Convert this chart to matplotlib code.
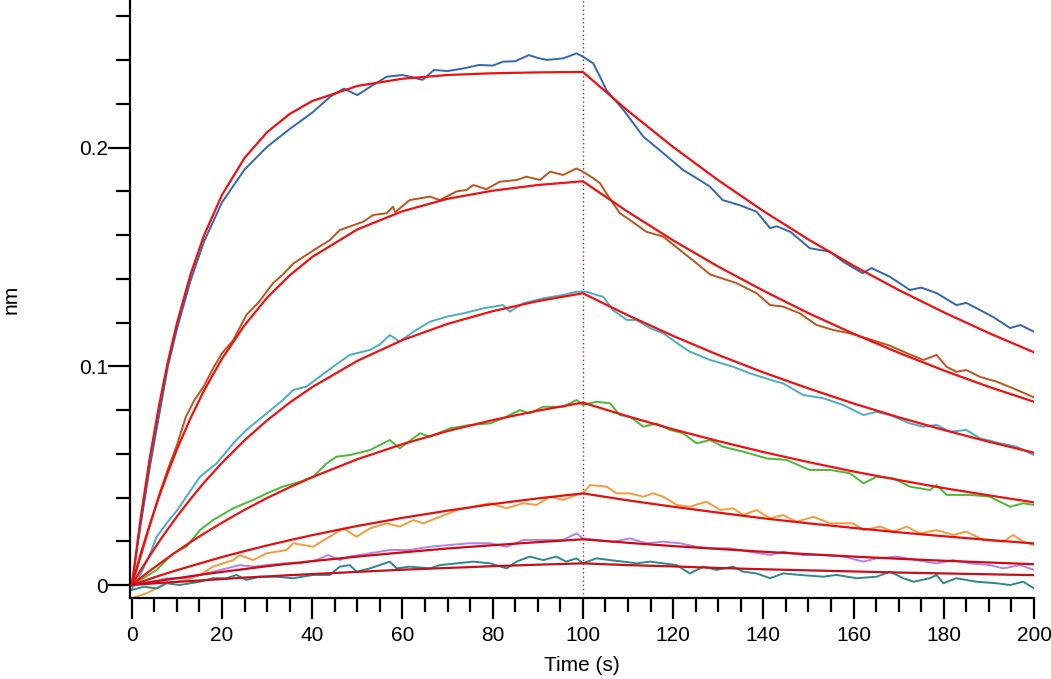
import matplotlib
matplotlib.use("Agg")
import matplotlib.pyplot as plt
from matplotlib.ticker import MultipleLocator, FixedLocator

plt.rcParams['font.family'] = ['Liberation Sans', 'DejaVu Sans']

# ---------------- data ----------------
t_blue = [0, 2, 4, 6, 8, 10, 13, 16, 20, 25, 30, 35, 40, 44, 47, 50, 53, 56.5, 60, 64.5, 67, 70,
          73.5, 77, 80, 82.3, 85, 88, 90, 92, 95.6, 98.6, 100, 102.3, 103.8, 105.2, 109, 113.4,
          117.8, 122.2, 126, 128.2, 131, 135, 138.5, 141.5, 143, 146, 150.3, 154.8, 157.7, 162,
          164, 168, 172.5, 175, 178.4, 182.8, 185, 188.7, 191, 194.7, 197, 200]
v_blue = [0, 0.028, 0.054, 0.077, 0.100, 0.117, 0.139, 0.157, 0.175, 0.190, 0.2004, 0.2085, 0.216,
          0.2233, 0.227, 0.224, 0.228, 0.2324, 0.2332, 0.2310, 0.2355, 0.2350, 0.2362, 0.2378,
          0.2375, 0.2393, 0.2395, 0.2423, 0.2410, 0.2401, 0.2408, 0.2431, 0.2416, 0.2385, 0.2324,
          0.2263, 0.2172, 0.2050, 0.1975, 0.1898, 0.1850, 0.1821, 0.1760, 0.1735, 0.1707, 0.1632,
          0.1640, 0.1615, 0.1540, 0.1524, 0.1478, 0.1426, 0.1449, 0.1410, 0.1349, 0.1360, 0.1335,
          0.1280, 0.1290, 0.1250, 0.1225, 0.1175, 0.1189, 0.1158]

t_brown = [0, 2, 4, 6, 8, 10, 12, 14, 16, 18, 20, 22.5, 25.4, 28, 31.3, 33.5, 35.8, 38, 41, 43.9,
           46.1, 51.3, 53.5, 56.5, 57.9, 58.4, 61.6, 66.1, 68.3, 72, 74.2, 75.7, 78.6, 81.6, 85.3,
           87.5, 90.5, 92.7, 95.6, 98.6, 100, 102.3, 103.8, 105.2, 106.7, 108.2, 110.4, 114.1,
           117.8, 121.5, 125.2, 128.2, 134.1, 138.5, 141.5, 144.4, 148.1, 151.8, 155.5, 159.2,
           162.9, 168.1, 171.8, 175.5, 178.4, 180.6, 182.8, 185, 188, 191.7, 195.4, 200]
v_brown = [0, 0.013, 0.027, 0.041, 0.053, 0.064, 0.077, 0.085, 0.091, 0.099, 0.106, 0.112, 0.1235,
           0.129, 0.138, 0.142, 0.147, 0.150, 0.154, 0.1577, 0.1623, 0.1661, 0.1692, 0.1700,
           0.1730, 0.1705, 0.1760, 0.1776, 0.1760, 0.1800, 0.1806, 0.1829, 0.1810, 0.1844, 0.1852,
           0.1867, 0.1852, 0.1890, 0.1875, 0.1905, 0.1890, 0.1860, 0.1837, 0.1791, 0.1745, 0.1700,
           0.1669, 0.1615, 0.1593, 0.1532, 0.1471, 0.1420, 0.1380, 0.1334, 0.1280, 0.1273, 0.1242,
           0.1189, 0.1166, 0.1151, 0.1128, 0.1094, 0.1060, 0.1029, 0.1052, 0.0998, 0.0975, 0.0983,
           0.0952, 0.0930, 0.0899, 0.0858]

t_cyan = [0, 2, 4, 5.5, 8, 10, 12.1, 15.1, 18.8, 22.5, 25.4, 29.9, 33.5, 35.8, 38.7, 40.2, 44.6,
          48.3, 52.8, 55, 57.2, 59.4, 62.4, 66.1, 69.8, 73.5, 77.9, 82.3, 83.8, 86.8, 91.2, 95.6,
          98.6, 100.8, 103, 104.5, 106.7, 109.7, 111.9, 114.9, 117.8, 121.5, 123.7, 128.2, 133.3,
          137, 142.9, 144.4, 148.8, 153.3, 157.7, 162.2, 165.1, 168.1, 172.5, 175.5, 178.4, 181.4,
          185, 188, 192.5, 196.2, 200]
v_cyan = [-0.002, 0.005, 0.014, 0.022, 0.029, 0.034, 0.0404, 0.0495, 0.0556, 0.0648, 0.0709,
          0.0785, 0.0846, 0.0892, 0.0907, 0.0930, 0.0998, 0.1052, 0.1075, 0.1100, 0.1143, 0.1113,
          0.1158, 0.1204, 0.1227, 0.1242, 0.1265, 0.1280, 0.1250, 0.1288, 0.1311, 0.1326, 0.1341,
          0.1341, 0.1326, 0.1318, 0.1257, 0.1212, 0.1212, 0.1174, 0.1151, 0.1097, 0.1067, 0.1029,
          0.0998, 0.0968, 0.0930, 0.0922, 0.0869, 0.0854, 0.0823, 0.0777, 0.0792, 0.0777, 0.0739,
          0.0724, 0.0732, 0.0701, 0.0709, 0.0671, 0.0648, 0.0632, 0.0594]

t_green = [0, 2.5, 5.5, 9.2, 12.1, 15.1, 18, 22.5, 26.9, 29.9, 33.5, 37.3, 40.2, 43.2, 45.4, 48.3,
           52.8, 57.2, 59.4, 63.9, 66.1, 70.5, 74.9, 79.4, 82.3, 86, 88.2, 91.2, 95.6, 98.6, 100,
           103, 106, 108.2, 110.4, 113.4, 116.3, 119.3, 122.2, 125.2, 128.2, 131.1, 135.5, 140.7,
           145.1, 150.3, 154.8, 159.2, 162.2, 165.1, 168.8, 172.5, 176.9, 178.4, 180.6, 185.8,
           190.2, 194.7, 197.6, 200]
v_green = [0, 0.003, 0.0069, 0.0145, 0.0175, 0.0251, 0.0297, 0.0351, 0.0389, 0.0419, 0.0450,
           0.0472, 0.0495, 0.0556, 0.0587, 0.0594, 0.0617, 0.0663, 0.0625, 0.0694, 0.0678, 0.0716,
           0.0732, 0.0739, 0.0762, 0.0800, 0.0785, 0.0815, 0.0815, 0.0846, 0.0823, 0.0838, 0.0831,
           0.0777, 0.0770, 0.0724, 0.0739, 0.0709, 0.0694, 0.0648, 0.0663, 0.0632, 0.0610, 0.0579,
           0.0572, 0.0526, 0.0526, 0.0511, 0.0465, 0.0495, 0.0488, 0.0450, 0.0434, 0.0457, 0.0412,
           0.0412, 0.0404, 0.0358, 0.0374, 0.0366]

t_orange = [0, 3.25, 5.5, 7.7, 12.1, 15.1, 18, 22.5, 23.9, 26.9, 29.9, 34.3, 35.8, 40.2, 43.2,
            46.9, 49.8, 52.8, 56.5, 59.4, 62.4, 64.6, 68.3, 72, 75.7, 79.4, 83.1, 86.8, 89.7,
            92.7, 95.6, 98.6, 100, 101.6, 105.2, 107.5, 110.4, 113.4, 115.6, 117.8, 120.8, 123.7,
            127.4, 130.4, 133.3, 135.5, 138.5, 141.5, 144.4, 147.3, 151.1, 154.8, 159.9, 162.2,
            165.9, 168.8, 171.8, 174.7, 178.4, 182.1, 185, 188.8, 193.2, 195.4, 197.6, 200]
v_orange = [-0.006, -0.0038, -0.0015, 0.0008, 0.0023, 0.0046, 0.0084, 0.0114, 0.0137, 0.0114,
            0.0145, 0.0160, 0.0191, 0.0175, 0.0213, 0.0259, 0.0221, 0.0259, 0.0282, 0.0267,
            0.0297, 0.0282, 0.0312, 0.0343, 0.0358, 0.0374, 0.0351, 0.0374, 0.0366, 0.0404,
            0.0389, 0.0412, 0.0419, 0.0457, 0.0450, 0.0419, 0.0419, 0.0404, 0.0419, 0.0404,
            0.0366, 0.0358, 0.0381, 0.0343, 0.0351, 0.0320, 0.0343, 0.0305, 0.0320, 0.0289,
            0.0312, 0.0282, 0.0282, 0.0251, 0.0267, 0.0244, 0.0267, 0.0236, 0.0251, 0.0229,
            0.0244, 0.0206, 0.0198, 0.0229, 0.0198, 0.0183]

t_purple = [0, 3.25, 7.7, 12.1, 16.5, 21, 23.9, 26.9, 29.9, 33.5, 37.3, 40.9, 43.5, 46.1, 48.3,
            52.8, 57.2, 61.6, 66.1, 70.5, 74.9, 79.4, 83.1, 86.8, 91.2, 95.6, 98.6, 100, 103,
            106.7, 110.4, 114.1, 117.8, 121.5, 125.2, 128.2, 132.6, 137, 141.5, 144.4, 148.8,
            153.3, 157.7, 162.2, 165.1, 169.5, 173.9, 178.4, 182.1, 185.8, 190.2, 193.2, 196.9, 200]
v_purple = [0, 0.0008, 0.0031, 0.0031, 0.0053, 0.0076, 0.0091, 0.0084, 0.0091, 0.0099, 0.0099,
            0.0114, 0.0137, 0.0114, 0.0130, 0.0145, 0.0160, 0.0160, 0.0175, 0.0183, 0.0191,
            0.0191, 0.0175, 0.0206, 0.0206, 0.0206, 0.0236, 0.0213, 0.0206, 0.0198, 0.0213,
            0.0191, 0.0198, 0.0191, 0.0175, 0.0168, 0.0168, 0.0152, 0.0137, 0.0152, 0.0137,
            0.0137, 0.0130, 0.0107, 0.0122, 0.0130, 0.0114, 0.0099, 0.0114, 0.0099, 0.0091,
            0.0076, 0.0091, 0.0069]

t_teal = [0, 2.6, 5.5, 7.7, 10.6, 15.1, 18, 21, 23.2, 25.4, 28.3, 32, 35.8, 40.2, 43.9, 46.1,
          48.3, 49.8, 52.8, 57.2, 58.7, 61.6, 66.1, 68.3, 72, 75.7, 79.4, 83.1, 85.3, 88.2, 91.2,
          94.1, 96.3, 98.6, 100, 103, 106, 108.9, 111.9, 114.9, 117.8, 120.8, 123.7, 126.7, 129.6,
          133.3, 135.5, 138.5, 141.5, 144.4, 148.1, 153.3, 156.2, 160.7, 165.1, 168.1, 171,
          173.3, 176.9, 178.4, 179.9, 182.8, 187.3, 191.7, 194.7, 197.6, 200]
v_teal = [-0.0023, -0.0008, -0.0015, 0.0008, 0.0, 0.0015, 0.0031, 0.0031, 0.0046, 0.0023, 0.0038,
          0.0038, 0.0031, 0.0046, 0.0046, 0.0084, 0.0091, 0.0061, 0.0076, 0.0107, 0.0076, 0.0084,
          0.0076, 0.0091, 0.0099, 0.0107, 0.0099, 0.0076, 0.0107, 0.0130, 0.0114, 0.0130, 0.0107,
          0.0122, 0.0099, 0.0122, 0.0114, 0.0107, 0.0099, 0.0107, 0.0099, 0.0091, 0.0053, 0.0084,
          0.0069, 0.0084, 0.0061, 0.0053, 0.0031, 0.0053, 0.0046, 0.0038, 0.0046, 0.0031, 0.0038,
          0.0061, 0.0031, 0.0015, 0.0031, 0.0046, 0.0008, 0.0031, 0.0015, 0.0008, 0.0, 0.0015,
          -0.0015]

# fitted curves (red), read at common times
t_fit = [0, 2, 4, 6, 8, 10, 13, 16, 20, 25, 30, 35, 40, 50, 60, 70, 80, 90, 100,
         110, 120, 130, 140, 150, 160, 170, 180, 190, 200]
fit_blue = [0, 0.0312, 0.0583, 0.0817, 0.1021, 0.1197, 0.1419, 0.1598, 0.1784, 0.1953, 0.2071,
            0.2154, 0.2213, 0.2282, 0.2315, 0.2332, 0.2340, 0.2344, 0.2346,
            0.2168, 0.2003, 0.1851, 0.1710, 0.1580, 0.1460, 0.1349, 0.1247, 0.1152, 0.1064]
fit_brown = [0, 0.0145, 0.0278, 0.0401, 0.0515, 0.0620, 0.0762, 0.0889, 0.1035, 0.1188, 0.1314,
             0.1416, 0.1500, 0.1626, 0.1709, 0.1766, 0.1803, 0.1829, 0.1846,
             0.1706, 0.1576, 0.1456, 0.1346, 0.1243, 0.1149, 0.1062, 0.0981, 0.0906, 0.0838]
fit_cyan = [0, 0.0069, 0.0134, 0.0197, 0.0256, 0.0313, 0.0393, 0.0468, 0.0559, 0.0662, 0.0753,
            0.0834, 0.0905, 0.1025, 0.1120, 0.1194, 0.1252, 0.1298, 0.1334,
            0.1233, 0.1139, 0.1052, 0.0972, 0.0899, 0.0830, 0.0767, 0.0709, 0.0655, 0.0605]
fit_green = [0, 0.0033, 0.0065, 0.0095, 0.0125, 0.0154, 0.0196, 0.0235, 0.0285, 0.0344, 0.0398,
             0.0447, 0.0493, 0.0575, 0.0644, 0.0704, 0.0754, 0.0797, 0.0834,
             0.0771, 0.0712, 0.0658, 0.0608, 0.0562, 0.0519, 0.0480, 0.0443, 0.0410, 0.0378]
fit_orange = [0, 0.0014, 0.0028, 0.0042, 0.0055, 0.0068, 0.0086, 0.0104, 0.0128, 0.0155, 0.0181,
              0.0205, 0.0228, 0.0270, 0.0307, 0.0340, 0.0370, 0.0396, 0.0419,
              0.0387, 0.0358, 0.0331, 0.0305, 0.0282, 0.0261, 0.0241, 0.0223, 0.0206, 0.0190]
fit_purple = [0, 0.0007, 0.0013, 0.0019, 0.0025, 0.0031, 0.0040, 0.0049, 0.0060, 0.0073, 0.0086,
              0.0098, 0.0109, 0.0130, 0.0149, 0.0167, 0.0182, 0.0196, 0.0209,
              0.0193, 0.0178, 0.0165, 0.0152, 0.0141, 0.0130, 0.0120, 0.0111, 0.0103, 0.0095]
fit_teal = [0, 0.0003, 0.0006, 0.0009, 0.0012, 0.0014, 0.0018, 0.0022, 0.0027, 0.0034, 0.0039,
            0.0045, 0.0050, 0.0060, 0.0070, 0.0078, 0.0086, 0.0093, 0.0099,
            0.0091, 0.0085, 0.0078, 0.0072, 0.0067, 0.0062, 0.0057, 0.0053, 0.0049, 0.0045]

switch_time = 100
x_ticks = [0, 20, 40, 60, 80, 100, 120, 140, 160, 180, 200]
y_ticks = [0, 0.1, 0.2]
y_tick_labels = ['0', '0.1', '0.2']

series = [
    (t_blue, v_blue, '#3366b3'),
    (t_brown, v_brown, '#b9561c'),
    (t_cyan, v_cyan, '#4bacc6'),
    (t_green, v_green, '#4cb838'),
    (t_orange, v_orange, '#f79a3c'),
    (t_purple, v_purple, '#b583e3'),
    (t_teal, v_teal, '#2e8791'),
]
fits = [fit_blue, fit_brown, fit_cyan, fit_green, fit_orange, fit_purple, fit_teal]
fit_colors = ['#ee1111', '#ee1111', '#ee1111', '#ee1111', '#e21010', '#cc0a14', '#c4101a']

# ---------------- figure ----------------
W, H = 1051, 679
fig = plt.figure(figsize=(W / 100, H / 100), dpi=100)
ax = fig.add_axes([130 / W, 81 / H, 904 / W, 598 / H])

for t, v, c in series:
    ax.plot(t, v, color=c, lw=1.4, zorder=2)
for f, fc in zip(fits, fit_colors):
    ax.plot(t_fit, f, color=fc, lw=1.6, zorder=3)

ax.axvline(switch_time, color='#b22222', lw=1.0, ls=(0, (1, 2)), zorder=1)

ax.set_xlim(-0.4, 200)
ax.set_ylim(-0.00594, 0.2675)

for s in ['top', 'right']:
    ax.spines[s].set_visible(False)
for s in ['left', 'bottom']:
    ax.spines[s].set_linewidth(1.6)

ax.xaxis.set_major_locator(FixedLocator(x_ticks))
ax.xaxis.set_minor_locator(MultipleLocator(5))
ax.yaxis.set_major_locator(FixedLocator(y_ticks))
ax.set_yticklabels(y_tick_labels)
ax.yaxis.set_minor_locator(MultipleLocator(0.02))

ax.tick_params(axis='both', which='major', labelsize=15, width=1.6, color='black')
ax.tick_params(axis='both', which='minor', width=1.6)
ax.tick_params(axis='x', which='major', length=15, pad=5)
ax.tick_params(axis='x', which='minor', length=10)
ax.tick_params(axis='y', which='major', length=16, pad=0)
ax.tick_params(axis='y', which='minor', length=10)

ax.set_xlabel('Time (s)', fontsize=15, labelpad=8)
ax.set_ylabel('nm', fontsize=15)
ax.yaxis.set_label_coords(-109 / 904, 0.5)

fig.savefig('out.png', dpi=100)
